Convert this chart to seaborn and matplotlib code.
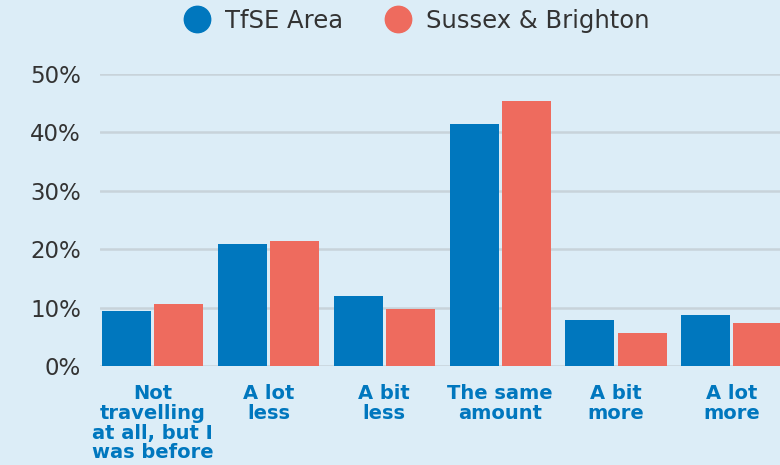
import matplotlib
matplotlib.use("Agg")
import matplotlib.pyplot as plt
from matplotlib.lines import Line2D
import seaborn as sns
import pandas as pd

categories = ["Not\ntravelling\nat all, but I\nwas before", "A lot\nless", "A bit\nless",
              "The same\namount", "A bit\nmore", "A lot\nmore"]
series_names = ["TfSE Area", "Sussex & Brighton"]
tfse_values = [9.4, 20.9, 12.0, 41.4, 7.9, 8.7]
sussex_values = [10.6, 21.4, 9.8, 45.4, 5.6, 7.4]
y_ticks = [0, 10, 20, 30, 40, 50]
y_tick_labels = ["0%", "10%", "20%", "30%", "40%", "50%"]

colors = ["#0077be", "#ee6b5e"]
bg = "#dcedf7"

df = pd.DataFrame({
    "category": categories * 2,
    "series": [series_names[0]] * len(categories) + [series_names[1]] * len(categories),
    "value": tfse_values + sussex_values,
})

sns.set_theme(style="white")
plt.rcParams["font.family"] = ["DejaVu Sans"]

fig = plt.figure(figsize=(7.8, 4.65), dpi=100, facecolor=bg)
ax = fig.add_axes([100.5 / 780, (465 - 366) / 465, (784 - 100.5) / 780, (366 - 74) / 465])
ax.set_facecolor(bg)

sns.barplot(data=df, x="category", y="value", hue="series", order=categories,
            hue_order=series_names, palette=colors, width=0.9, gap=0.06,
            saturation=1, ax=ax, legend=False, linewidth=0, zorder=3)

ax.set_xlim(-0.45, 5.45)
ax.set_ylim(0, 50)
ax.set_yticks(y_ticks)
ax.set_yticklabels(y_tick_labels, fontsize=16.5, color="#333333")
ax.yaxis.grid(True, color="#c8d3da", linewidth=1.8, zorder=0)
ax.set_axisbelow(True)
for s in ax.spines.values():
    s.set_visible(False)
ax.tick_params(axis="y", length=0, pad=14)
ax.tick_params(axis="x", length=0, pad=13)
ax.set_xlabel("")
ax.set_ylabel("")
for lbl in ax.get_xticklabels():
    lbl.set_fontsize(14)
    lbl.set_fontweight("bold")
    lbl.set_color("#0077be")
    lbl.set_linespacing(1.05)
    lbl.set_verticalalignment("top")
    lbl.set_horizontalalignment("center")

handles = [Line2D([0], [0], marker="o", linestyle="", markersize=19,
                  markerfacecolor=c, markeredgecolor=c) for c in colors]
fig.legend(handles, series_names, loc="center left", bbox_to_anchor=(163 / 780, 1 - 21 / 465),
           ncol=2, frameon=False, fontsize=17.5, handlelength=1.0, handletextpad=0.65,
           columnspacing=1.77, labelcolor="#333333")

fig.savefig("out.png", dpi=100, facecolor=bg)
